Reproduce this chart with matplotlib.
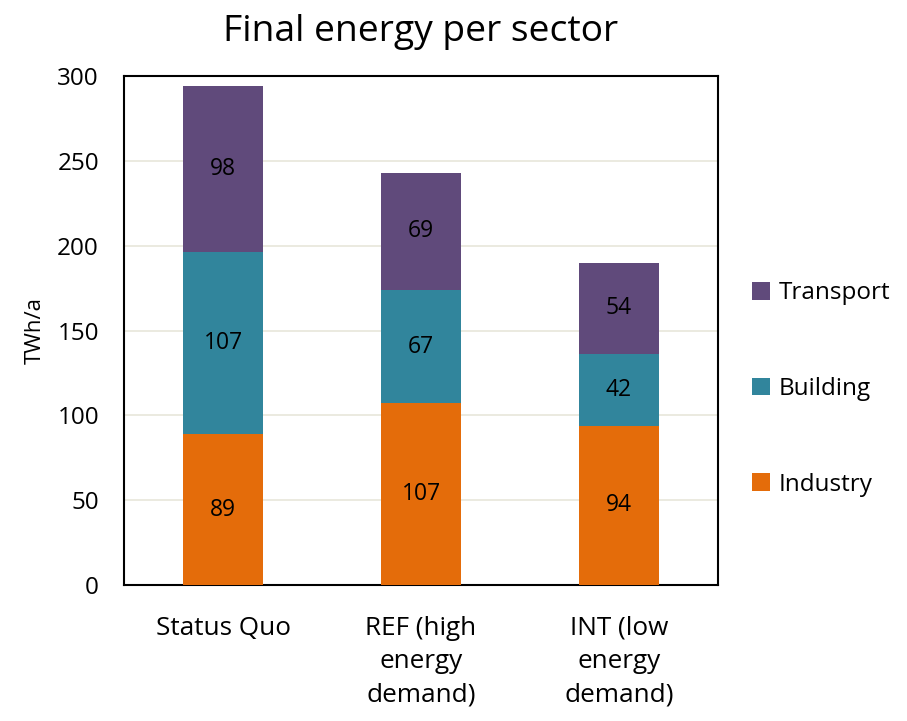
import matplotlib.pyplot as plt
import numpy as np

plt.rcParams['font.family'] = ['Open Sans', 'DejaVu Sans']

scenarios = ["Status Quo", "REF (high\nenergy\ndemand)", "INT (low\nenergy\ndemand)"]
industry = [89, 107, 94]
building = [107, 67, 42]
transport = [98, 69, 54]

c_ind = "#E46C0A"
c_bld = "#31859C"
c_trn = "#604A7B"

fig = plt.figure(figsize=(9.07, 7.21), dpi=100)
ax = fig.add_axes([0.1367, 0.1886, 0.655, 0.706])

x = np.arange(len(scenarios))
w = 0.40
ind = np.array(industry)
bld = np.array(building)
trn = np.array(transport)

b1 = ax.bar(x, ind, w, color=c_ind, label="Industry", zorder=3)
b2 = ax.bar(x, bld, w, bottom=ind, color=c_bld, label="Building", zorder=3)
b3 = ax.bar(x, trn, w, bottom=ind + bld, color=c_trn, label="Transport", zorder=3)

for bars in (b1, b2, b3):
    ax.bar_label(bars, label_type="center", fontsize=16.5, color="black")

ax.set_xlim(-0.5, 2.5)
ax.set_ylim(0, 300)
ax.set_yticks(range(0, 301, 50))
ax.set_xticks(x)
ax.set_xticklabels(scenarios, fontsize=18.8, linespacing=1.45)
ax.tick_params(axis="y", length=0, labelsize=17.5, pad=18)
ax.tick_params(axis="x", length=0, pad=22)
ax.yaxis.grid(True, color="#E8E6DA", linewidth=1.2, zorder=0)
for s in ax.spines.values():
    s.set_linewidth(1.5)
    s.set_color("black")
ax.set_ylabel("TWh/a", fontsize=16, labelpad=8)

ax.set_title("Final energy per sector", fontsize=26.8, pad=25)

handles = [b3, b2, b1]
ax.legend(handles, ["Transport", "Building", "Industry"], loc="center left",
          bbox_to_anchor=(1.02, 0.385), frameon=False, fontsize=17.5,
          handlelength=0.75, handleheight=0.75, handletextpad=0.35, labelspacing=2.95)

fig.savefig("out.png", dpi=100)
